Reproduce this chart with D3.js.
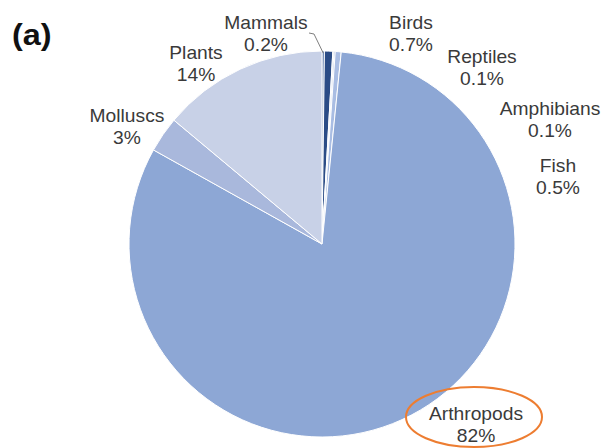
<!DOCTYPE html>
<html>
<head>
<meta charset="utf-8">
<script src="https://cdnjs.cloudflare.com/ajax/libs/d3/7.8.5/d3.min.js"></script>
<style>
  html, body { margin: 0; padding: 0; background: #fff; }
  svg { display: block; }
  text { font-family: "Liberation Sans", Arial, sans-serif; }
</style>
</head>
<body>
<svg id="chart" width="607" height="448"></svg>
<script>
// ---- data ----
const categories = ["Mammals", "Birds", "Reptiles", "Amphibians", "Fish", "Arthropods", "Molluscs", "Plants"];
const values     = [0.2, 0.7, 0.1, 0.1, 0.5, 82, 3, 14];
const valueLabels = ["0.2%", "0.7%", "0.1%", "0.1%", "0.5%", "82%", "3%", "14%"];
const panelLabel = "(a)";

// ---- styling / layout (not data) ----
const colors = ["#46679f", "#2b4c86", "#b4c7e7", "#6f8fc8", "#a9bde3", "#8da7d5", "#a9b8dc", "#c8d1e7"];
// label anchor (center x, first-line baseline y)
const labelAnchors = [
  [266, 29], [411, 29], [482, 63], [550, 115], [558, 172], [476, 420], [127, 122], [196, 59]
];

const svg = d3.select("#chart");
const cx = 322, cy = 244, r = 193;

const pie = d3.pie().sort(null).value(d => d.v).startAngle(0).endAngle(2 * Math.PI);
const arc = d3.arc().innerRadius(0).outerRadius(r);
const data = categories.map((c, i) => ({ c, v: values[i], lbl: valueLabels[i], col: colors[i], pos: labelAnchors[i] }));

const g = svg.append("g").attr("transform", `translate(${cx},${cy})`);
g.selectAll("path.slice")
  .data(pie(data))
  .join("path")
  .attr("class", "slice")
  .attr("d", arc)
  .attr("fill", d => d.data.col)
  .attr("stroke", "#ffffff")
  .attr("stroke-width", 1);

// leader line for Mammals
const mammalArc = pie(data)[0];
const mid = (mammalArc.startAngle + mammalArc.endAngle) / 2;
const edge = [cx + r * Math.sin(mid), cy - r * Math.cos(mid)];
svg.append("polyline")
  .attr("points", `309,33 314,34 ${edge[0]},${edge[1] + 2}`)
  .attr("fill", "none")
  .attr("stroke", "#7f7f7f")
  .attr("stroke-width", 1);

// labels
const lg = svg.append("g");
data.forEach(d => {
  const t = lg.append("text")
    .attr("transform", `translate(${d.pos[0]},${d.pos[1]}) scale(1.1,1)`)
    .attr("text-anchor", "middle")
    .attr("font-size", 17.5)
    .attr("fill", "#3a3a3a");
  t.append("tspan").attr("x", 0).attr("y", 0).text(d.c);
  t.append("tspan").attr("x", 0).attr("y", 22).text(d.lbl);
});

// highlight ellipse around Arthropods
svg.append("ellipse")
  .attr("cx", 474).attr("cy", 417)
  .attr("rx", 68).attr("ry", 30)
  .attr("fill", "none")
  .attr("stroke", "#ed7d31")
  .attr("stroke-width", 2);

// panel label
svg.append("text")
  .attr("transform", "translate(12,45) scale(1.08,1)")
  .attr("font-size", 30)
  .attr("font-weight", "bold")
  .attr("fill", "#111")
  .text(panelLabel);
</script>
</body>
</html>
